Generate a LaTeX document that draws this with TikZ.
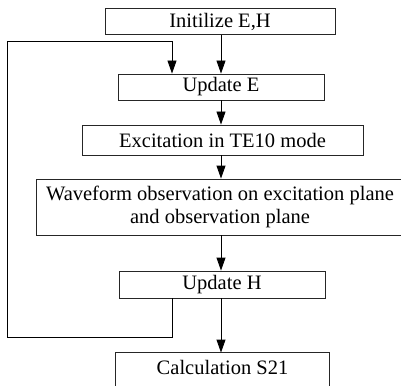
\documentclass[tikz,border=0pt]{standalone}
\usepackage{fontspec}
\setmainfont{Liberation Serif}
\usetikzlibrary{arrows.meta}
\begin{document}
\begin{tikzpicture}[x=1pt,y=-1pt,
  stepbox/.style={draw=black!85,line width=0.9pt,rectangle,inner sep=0pt,
    font=\fontsize{20.5}{23.5}\selectfont,align=center},
  flow/.style={draw=black,line width=0.9pt,-{Triangle[width=9pt,length=13pt]}},
  loopline/.style={draw=black,line width=0.9pt}]
\useasboundingbox (0,0) rectangle (401,385);
\clip (0,0) rectangle (401,385);
% process boxes
\node[stepbox,minimum width=230pt,minimum height=26pt] (init) at (220,21.5) {Initilize E,H};
\node[stepbox,minimum width=206pt,minimum height=26pt] (upE) at (221,87) {Update E};
\node[stepbox,minimum width=281pt,minimum height=30pt] (exc) at (222.5,140) {Excitation in TE10 mode};
\node[stepbox,minimum width=368pt,minimum height=56pt] (wave) at (220,207)
  {Waveform observation on excitation plane\\and observation plane};
\node[stepbox,minimum width=206pt,minimum height=27pt] (upH) at (222,284.5) {Update H};
\node[stepbox,draw=none,minimum width=213pt,minimum height=28pt] (s21) at (222.5,367) {Calculation S21};
% outline of the last box, open towards the lower edge
\draw[black!85,line width=0.9pt] ([yshift=-30pt]s21.south west) |- (s21.north east) -- ++(0,-40pt);
% main flow
\coordinate (mx) at (221,0);
\draw[flow] (init.south -| mx) -- (upE.north -| mx);
\draw[flow] (upE.south -| mx) -- (exc.north -| mx);
\draw[flow] (exc.south -| mx) -- (wave.north -| mx);
\draw[flow] (wave.south -| mx) -- (upH.north -| mx);
\draw[flow] (upH.south -| mx) -- (s21.north -| mx);
% feedback loop from Update H back to Update E
\coordinate (jx) at (172,0);
\coordinate (lb) at (7,337);
\coordinate (lt) at (7,41);
\draw[loopline] (upH.south -| jx) |- (lb) -- (lt);
\draw[flow] (lt) -| (upE.north -| jx);
\end{tikzpicture}
\end{document}
